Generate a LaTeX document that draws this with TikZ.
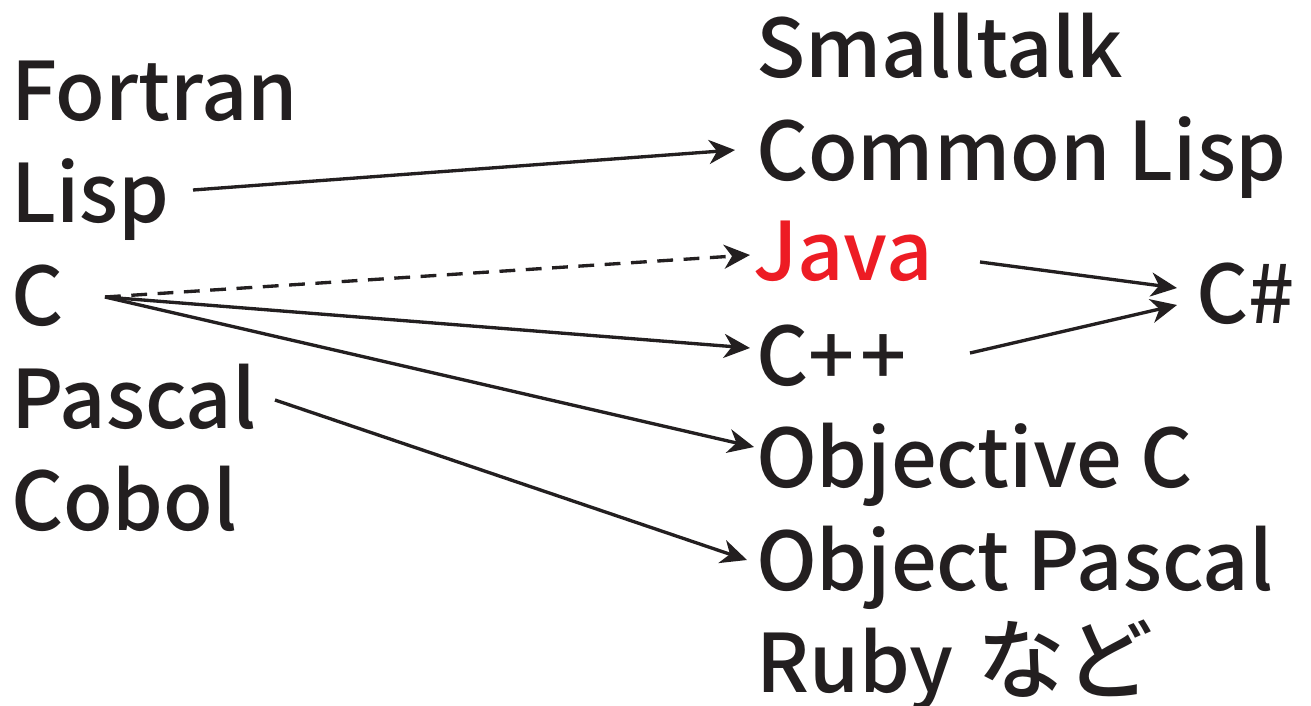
\documentclass[tikz,border=0pt]{standalone}
\usepackage{fontspec}
\setmainfont{Noto Sans CJK JP Medium}
\usetikzlibrary{arrows.meta}
\definecolor{inkred}{RGB}{237,28,36}
\definecolor{ink}{RGB}{35,31,32}
\begin{document}
\begin{tikzpicture}[x=0.02cm,y=-0.02cm,
  lang/.style={anchor=base west,inner sep=0pt,outer sep=0pt,text=ink,font=\fontsize{46}{46}\selectfont},
  link/.style={draw=ink,line width=1.9pt,-{Stealth[length=26*0.02cm,width=24*0.02cm,inset=8*0.02cm]}}]
\useasboundingbox (0,0) rectangle (1311,706);
% older languages
\node[lang] (fortran) at (11,120) {Fortran};
\node[lang] (lisp)    at (11,222) {Lisp};
\node[lang] (c)       at (11,325) {C};
\node[lang] (pascal)  at (11,428) {Pascal};
\node[lang] (cobol)   at (11,530) {Cobol};
% object-oriented languages
\node[lang] (smalltalk) at (756,78)  {Smalltalk};
\node[lang] (clisp)     at (756,180) {Common Lisp};
\node[lang,text=inkred] (java) at (753,280) {Java};
\node[lang] (cpp)       at (756,385) {C+\kern0.08em+};
\node[lang] (objc)      at (756,487) {Objective C};
\node[lang] (objpascal) at (756,590) {Object Pascal};
\node[lang] (ruby)      at (756,692) {Ruby\hspace{0.48cm}{\fontsize{50}{50}\selectfont など}};
\node[lang] (csharp)    at (1196,323) {C\#};
% connector end points
\coordinate (lisp-out)   at (193,190);
\coordinate (c-out)      at (105,297);
\coordinate (pascal-out) at (275,400);
\coordinate (clisp-in)   at (735,150);
\coordinate (java-in)    at (750,255);
\coordinate (cpp-in)     at (750,348);
\coordinate (objc-in)    at (754,447);
\coordinate (objpascal-in) at (747,560);
\coordinate (java-out)   at (980,262);
\coordinate (cpp-out)    at (970,353);
\coordinate (csharp-in1) at (1177,288);
\coordinate (csharp-in2) at (1177,305);
% lineage
\draw[link] (lisp-out) -- (clisp-in);
\draw[link,dash pattern=on 9pt off 6pt] (c-out) -- (java-in);
\draw[link] (c-out) -- (cpp-in);
\draw[link] (c-out) -- (objc-in);
\draw[link] (pascal-out) -- (objpascal-in);
\draw[link] (java-out) -- (csharp-in1);
\draw[link] (cpp-out) -- (csharp-in2);
\end{tikzpicture}
\end{document}
